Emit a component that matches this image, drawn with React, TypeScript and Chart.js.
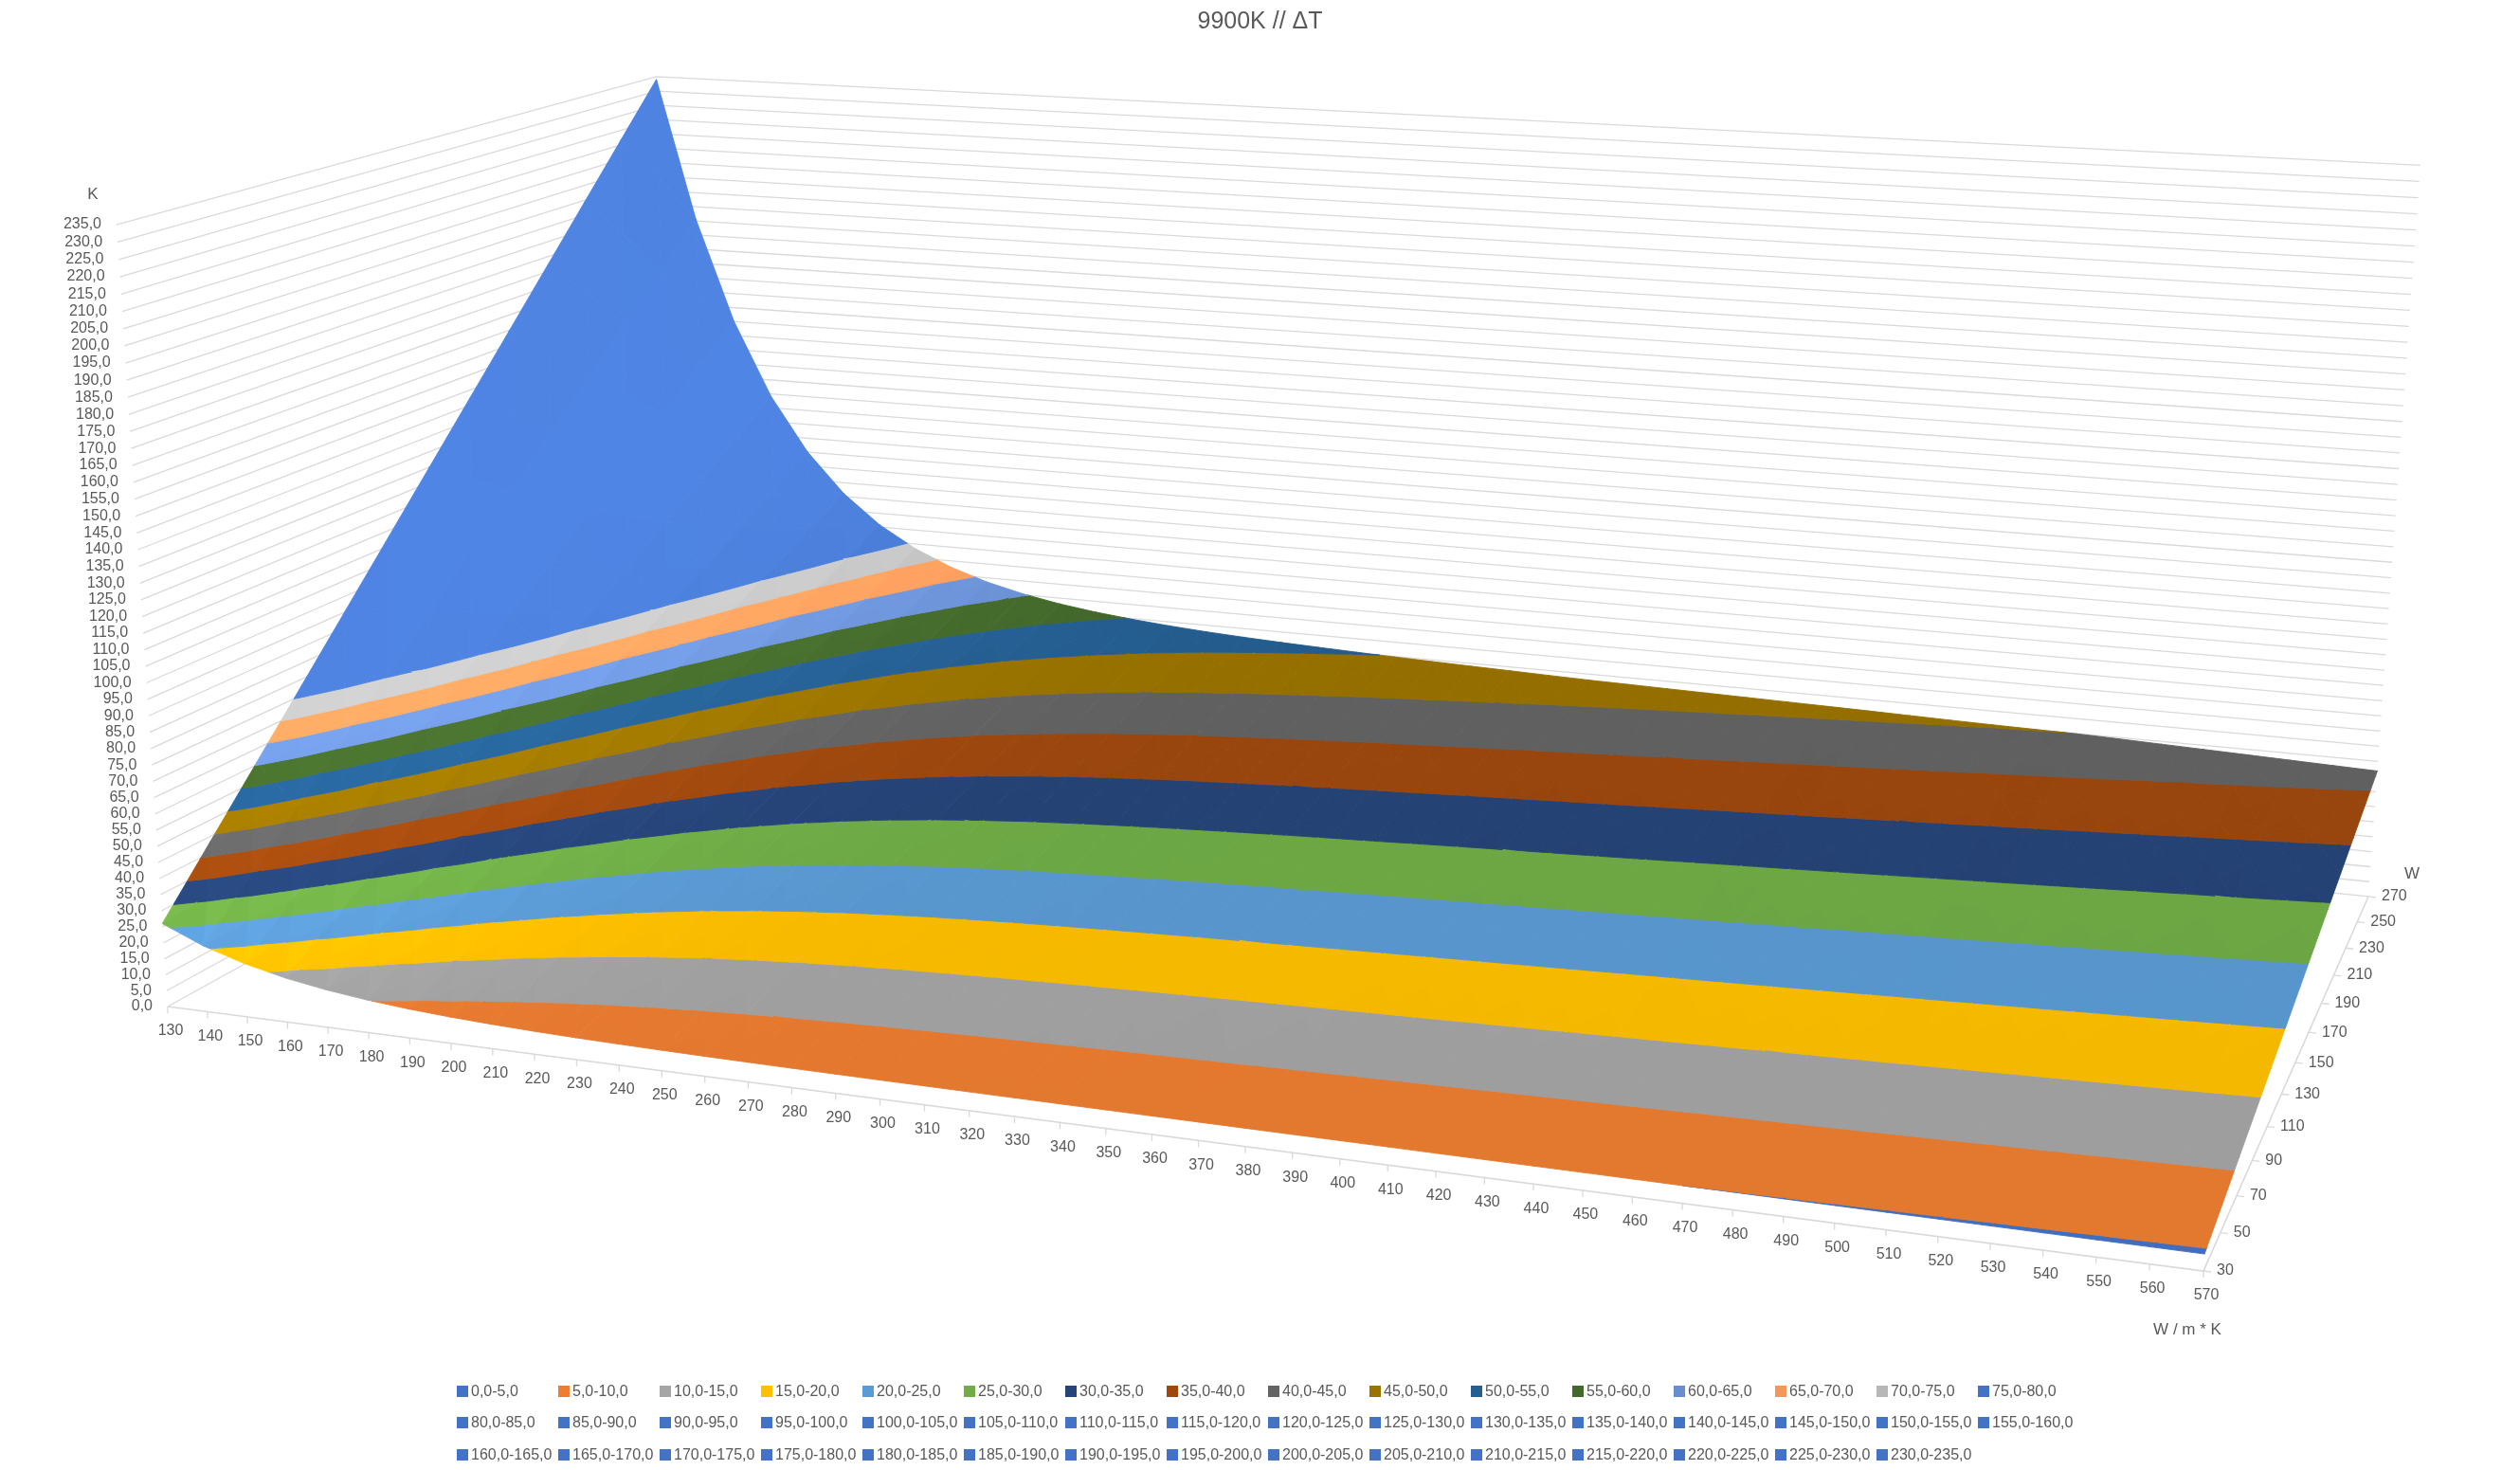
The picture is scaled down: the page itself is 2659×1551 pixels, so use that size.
import React, { useEffect, useRef } from "react";
import { Chart, registerables } from "chart.js";

Chart.register(...registerables);

// thermal conductivity categories (W / m * K), front axis
const conductivity = [
  130, 140, 150, 160, 170, 180, 190, 200, 210, 220, 230, 240, 250, 260, 270,
  280, 290, 300, 310, 320, 330, 340, 350, 360, 370, 380, 390, 400, 410, 420,
  430, 440, 450, 460, 470, 480, 490, 500, 510, 520, 530, 540, 550, 560, 570,
];

// power series (W), depth axis
const power = [30, 50, 70, 90, 110, 130, 150, 170, 190, 210, 230, 250, 270];

// ΔT (K) per power row, one value per conductivity category
const dt30 = [26.01, 20.62, 16.68, 13.79, 11.68, 10.13, 8.98, 8.14, 7.52, 7.05, 6.7, 6.44, 6.23, 6.08, 5.95, 5.85, 5.77, 5.7, 5.64, 5.59, 5.54, 5.49, 5.45, 5.41, 5.37, 5.33, 5.29, 5.26, 5.22, 5.18, 5.15, 5.11, 5.08, 5.04, 5.0, 4.97, 4.93, 4.9, 4.86, 4.83, 4.79, 4.76, 4.72, 4.69, 4.65];
const dt50 = [43.35, 34.37, 27.8, 22.99, 19.47, 16.88, 14.97, 13.57, 12.53, 11.75, 11.17, 10.73, 10.39, 10.13, 9.92, 9.75, 9.62, 9.5, 9.4, 9.31, 9.23, 9.15, 9.08, 9.02, 8.95, 8.88, 8.82, 8.76, 8.7, 8.64, 8.58, 8.52, 8.46, 8.4, 8.34, 8.28, 8.22, 8.17, 8.11, 8.05, 7.99, 7.93, 7.87, 7.81, 7.75];
const dt70 = [60.68, 48.11, 38.92, 32.19, 27.25, 23.63, 20.96, 19.0, 17.54, 16.45, 15.64, 15.02, 14.55, 14.18, 13.89, 13.65, 13.46, 13.3, 13.16, 13.03, 12.92, 12.81, 12.71, 12.62, 12.52, 12.43, 12.35, 12.26, 12.18, 12.1, 12.01, 11.92, 11.84, 11.76, 11.68, 11.59, 11.51, 11.43, 11.35, 11.26, 11.18, 11.1, 11.02, 10.93, 10.85];
const dt90 = [78.02, 61.86, 50.04, 41.38, 35.04, 30.38, 26.95, 24.43, 22.55, 21.15, 20.11, 19.31, 18.7, 18.23, 17.86, 17.55, 17.31, 17.1, 16.92, 16.76, 16.61, 16.47, 16.34, 16.23, 16.1, 15.98, 15.88, 15.77, 15.66, 15.55, 15.44, 15.33, 15.23, 15.12, 15.01, 14.9, 14.8, 14.7, 14.59, 14.48, 14.37, 14.27, 14.17, 14.06, 13.95];
const dt110 = [95.36, 75.6, 61.16, 50.58, 42.82, 37.13, 32.93, 29.85, 27.57, 25.85, 24.57, 23.6, 22.86, 22.29, 21.82, 21.45, 21.15, 20.9, 20.68, 20.48, 20.3, 20.13, 19.98, 19.83, 19.68, 19.54, 19.4, 19.27, 19.14, 19.01, 18.87, 18.73, 18.61, 18.48, 18.35, 18.22, 18.08, 17.96, 17.83, 17.7, 17.57, 17.44, 17.31, 17.18, 17.05];
const dt130 = [112.7, 89.35, 72.28, 59.77, 50.61, 43.88, 38.92, 35.28, 32.58, 30.55, 29.04, 27.89, 27.01, 26.34, 25.79, 25.35, 25.0, 24.7, 24.44, 24.21, 23.99, 23.79, 23.61, 23.44, 23.26, 23.09, 22.93, 22.78, 22.62, 22.46, 22.3, 22.14, 22.0, 21.84, 21.68, 21.53, 21.37, 21.23, 21.07, 20.92, 20.76, 20.61, 20.46, 20.31, 20.15];
const dt150 = [130.04, 103.1, 83.4, 68.97, 58.4, 50.63, 44.91, 40.71, 37.59, 35.25, 33.51, 32.18, 31.17, 30.39, 29.76, 29.25, 28.85, 28.5, 28.2, 27.93, 27.68, 27.45, 27.24, 27.05, 26.84, 26.64, 26.46, 26.28, 26.1, 25.92, 25.73, 25.55, 25.38, 25.2, 25.02, 24.84, 24.66, 24.5, 24.32, 24.14, 23.96, 23.78, 23.61, 23.43, 23.25];
const dt170 = [147.37, 116.84, 94.52, 78.17, 66.18, 57.38, 50.9, 46.14, 42.6, 39.95, 37.98, 36.47, 35.33, 34.44, 33.73, 33.15, 32.69, 32.3, 31.96, 31.65, 31.37, 31.11, 30.87, 30.65, 30.41, 30.19, 29.99, 29.78, 29.58, 29.38, 29.16, 28.95, 28.76, 28.56, 28.36, 28.15, 27.95, 27.76, 27.56, 27.35, 27.15, 26.95, 26.76, 26.55, 26.35];
const dt190 = [164.71, 130.59, 105.64, 87.36, 73.97, 64.13, 56.89, 51.57, 47.61, 44.65, 42.45, 40.76, 39.48, 38.49, 37.7, 37.05, 36.54, 36.1, 35.72, 35.38, 35.06, 34.77, 34.5, 34.26, 33.99, 33.74, 33.52, 33.29, 33.06, 32.83, 32.59, 32.36, 32.15, 31.92, 31.69, 31.46, 31.24, 31.03, 30.8, 30.57, 30.34, 30.12, 29.91, 29.68, 29.45];
const dt210 = [182.05, 144.33, 116.76, 96.56, 81.75, 70.88, 62.87, 57.0, 52.63, 49.35, 46.91, 45.05, 43.64, 42.55, 41.66, 40.95, 40.38, 39.9, 39.48, 39.1, 38.75, 38.43, 38.14, 37.86, 37.57, 37.3, 37.04, 36.79, 36.54, 36.29, 36.02, 35.76, 35.53, 35.28, 35.03, 34.78, 34.52, 34.29, 34.04, 33.79, 33.54, 33.29, 33.05, 32.8, 32.55];
const dt230 = [199.39, 158.08, 127.88, 105.75, 89.54, 77.63, 68.86, 62.42, 57.64, 54.05, 51.38, 49.34, 47.79, 46.6, 45.63, 44.85, 44.23, 43.7, 43.24, 42.83, 42.44, 42.09, 41.77, 41.47, 41.15, 40.85, 40.57, 40.3, 40.02, 39.74, 39.45, 39.17, 38.92, 38.64, 38.36, 38.09, 37.81, 37.56, 37.28, 37.01, 36.73, 36.46, 36.2, 35.93, 35.65];
const dt250 = [216.73, 171.83, 139.0, 114.95, 97.33, 84.38, 74.85, 67.85, 62.65, 58.75, 55.85, 53.63, 51.95, 50.65, 49.6, 48.75, 48.08, 47.5, 47.0, 46.55, 46.13, 45.75, 45.4, 45.08, 44.73, 44.4, 44.1, 43.8, 43.5, 43.2, 42.88, 42.58, 42.3, 42.0, 41.7, 41.4, 41.1, 40.83, 40.53, 40.23, 39.93, 39.63, 39.35, 39.05, 38.75];
const dt270 = [234.06, 185.57, 150.12, 124.15, 105.11, 91.13, 80.84, 73.28, 67.66, 63.45, 60.32, 57.92, 56.11, 54.7, 53.57, 52.65, 51.92, 51.3, 50.76, 50.27, 49.82, 49.41, 49.03, 48.68, 48.3, 47.95, 47.7, 47.45, 47.2, 46.95, 46.7, 46.45, 46.2, 45.9, 45.6, 45.35, 45.15, 44.95, 44.55, 44.1, 43.65, 43.2, 42.75, 42.3, 41.85];

const deltaT = [dt30, dt50, dt70, dt90, dt110, dt130, dt150, dt170, dt190, dt210, dt230, dt250, dt270];

// value axis ticks (K), also the contour band limits
const valueTicks = [
  0, 5, 10, 15, 20, 25, 30, 35, 40, 45, 50, 55, 60, 65, 70, 75, 80, 85, 90, 95,
  100, 105, 110, 115, 120, 125, 130, 135, 140, 145, 150, 155, 160, 165, 170,
  175, 180, 185, 190, 195, 200, 205, 210, 215, 220, 225, 230, 235,
];

const bandColors = [
  "#4472C4", "#ED7D31", "#A5A5A5", "#FFC000", "#5B9BD5", "#70AD47", "#264478",
  "#9E480E", "#636363", "#997300", "#255E91", "#43682B", "#698ED0", "#F1975A",
  "#B7B7B7",
];
const upperBandColor = "#4472C4";

const TEXT = "#595959";
const GRID = "#D9D9D9";
const FONT = '"Liberation Sans", Arial, sans-serif';

// projective camera in homogeneous image-plane units:
// image of the front-left floor corner, and of one full step along each box edge
const CAMERA = {
  origin: [-0.2305, 0.0524, 1],
  k: [0.400652, 0.04007, -0.14539],
  w: [0.0808, -0.061148, 0.21828],
  z: [0.000408, -0.159768, -0.046447],
};
const WINDOW = { x: [-0.2659, 0.2659], y: [-0.15, 0.1502] };
// box proportions in the world, used for the shading normals
const BOX = { k: 0.4238, w: 0.259, z: 0.166 };

type P3 = number[];
type Vtx = { ki: number; wi: number; z: number };

const zMax = valueTicks[valueTicks.length - 1];
const lastK = conductivity.length - 1;
const lastW = power.length - 1;

function camPoint(ki: number, wi: number, z: number): P3 {
  const a = ki / lastK;
  const b = wi / lastW;
  const c = z / zMax;
  return [0, 1, 2].map(
    (i) => CAMERA.origin[i] + a * CAMERA.k[i] + b * CAMERA.w[i] + c * CAMERA.z[i]
  );
}

const worldPoint = (v: Vtx): P3 => [(v.ki / lastK) * BOX.k, (v.wi / lastW) * BOX.w, (v.z / zMax) * BOX.z];

const fmt = (v: number) => v.toFixed(1).replace(".", ",");

const bands = valueTicks.slice(0, -1).map((lo, i) => ({
  lo,
  hi: valueTicks[i + 1],
  color: bandColors[i] ?? upperBandColor,
  label: `${fmt(lo)}-${fmt(valueTicks[i + 1])}`,
}));

// neighbouring bands of one colour are painted as one piece
const paintBands: { lo: number; hi: number; color: string }[] = [];
bands.forEach((b) => {
  const prev = paintBands[paintBands.length - 1];
  if (prev && prev.color === b.color) prev.hi = b.hi;
  else paintBands.push({ lo: b.lo, hi: b.hi, color: b.color });
});

const sub = (a: P3, b: P3) => [a[0] - b[0], a[1] - b[1], a[2] - b[2]];
const dot = (a: P3, b: P3) => a[0] * b[0] + a[1] * b[1] + a[2] * b[2];
const cross = (a: P3, b: P3) => [
  a[1] * b[2] - a[2] * b[1],
  a[2] * b[0] - a[0] * b[2],
  a[0] * b[1] - a[1] * b[0],
];
const unit = (a: P3) => {
  const n = Math.hypot(a[0], a[1], a[2]);
  return [a[0] / n, a[1] / n, a[2] / n];
};

const light = unit([0.85, -0.2, 0.49]);

function shade(hex: string, f: number) {
  const n = parseInt(hex.slice(1), 16);
  const ch = (v: number) => Math.max(0, Math.min(255, Math.round(v * f)));
  return `rgb(${ch((n >> 16) & 255)},${ch((n >> 8) & 255)},${ch(n & 255)})`;
}

function clip(poly: Vtx[], keep: (v: Vtx) => number) {
  const out: Vtx[] = [];
  for (let i = 0; i < poly.length; i++) {
    const a = poly[i];
    const b = poly[(i + 1) % poly.length];
    const fa = keep(a);
    const fb = keep(b);
    if (fa >= 0) out.push(a);
    if ((fa >= 0) !== (fb >= 0)) {
      const t = fa / (fa - fb);
      out.push({
        ki: a.ki + (b.ki - a.ki) * t,
        wi: a.wi + (b.wi - a.wi) * t,
        z: a.z + (b.z - a.z) * t,
      });
    }
  }
  return out;
}

const surfacePlugin = {
  id: "surface3d",
  beforeDatasetsDraw(chart: any) {
    const { ctx } = chart;
    const sx = chart.scales.x;
    const sy = chart.scales.y;
    const toPx = (p: P3) => [sx.getPixelForValue(p[0] / p[2]), sy.getPixelForValue(p[1] / p[2])];
    const at = (ki: number, wi: number, z: number) => toPx(camPoint(ki, wi, z));

    ctx.save();

    // side and back walls
    ctx.strokeStyle = GRID;
    ctx.lineWidth = 1.3;
    valueTicks.forEach((t) => {
      const a = at(0, 0, t);
      const b = at(0, lastW, t);
      const c = at(lastK, lastW, t);
      ctx.beginPath();
      ctx.moveTo(a[0], a[1]);
      ctx.lineTo(b[0], b[1]);
      ctx.lineTo(c[0], c[1]);
      ctx.stroke();
    });

    // floor axes
    ctx.lineWidth = 1.6;
    const f0 = at(0, 0, 0);
    const f1 = at(lastK, 0, 0);
    const f2 = at(lastK, lastW, 0);
    ctx.beginPath();
    ctx.moveTo(f0[0], f0[1]);
    ctx.lineTo(f1[0], f1[1]);
    ctx.lineTo(f2[0], f2[1]);
    ctx.stroke();
    ctx.lineWidth = 1.3;
    conductivity.forEach((_, ki) => {
      const p = at(ki, 0, 0);
      ctx.beginPath();
      ctx.moveTo(p[0], p[1]);
      ctx.lineTo(p[0], p[1] + 7);
      ctx.stroke();
    });
    power.forEach((_, wi) => {
      const p = at(lastK, wi, 0);
      ctx.beginPath();
      ctx.moveTo(p[0], p[1]);
      ctx.lineTo(p[0] + 8, p[1] + 1);
      ctx.stroke();
    });

    // surface: each cell split in four triangles round its centre
    const tris: { pts: Vtx[]; depth: number; f: number }[] = [];
    for (let wi = 0; wi < lastW; wi++) {
      for (let ki = 0; ki < lastK; ki++) {
        const a = { ki, wi, z: deltaT[wi][ki] };
        const b = { ki: ki + 1, wi, z: deltaT[wi][ki + 1] };
        const c = { ki: ki + 1, wi: wi + 1, z: deltaT[wi + 1][ki + 1] };
        const d = { ki, wi: wi + 1, z: deltaT[wi + 1][ki] };
        const m = { ki: ki + 0.5, wi: wi + 0.5, z: (a.z + b.z + c.z + d.z) / 4 };
        [[a, b, m], [b, c, m], [c, d, m], [d, a, m]].forEach((pts) => {
          const wp = pts.map(worldPoint);
          let n = unit(cross(sub(wp[1], wp[0]), sub(wp[2], wp[0])));
          if (n[2] < 0) n = n.map((x) => -x);
          const f = Math.max(0.82, Math.min(1.2, 0.95 + 0.42 * (dot(n, light) - 0.49)));
          const depth = pts.reduce((s, v) => s + camPoint(v.ki, v.wi, v.z)[2], 0) / 3;
          tris.push({ pts, depth, f });
        });
      }
    }
    tris.sort((p, q) => q.depth - p.depth);

    ctx.lineJoin = "round";
    ctx.lineWidth = 0.9;
    tris.forEach(({ pts, f }) => {
      const lo = Math.min(...pts.map((v) => v.z));
      const hi = Math.max(...pts.map((v) => v.z));
      paintBands.forEach((band, bi) => {
        const top = bi === paintBands.length - 1 ? Infinity : band.hi;
        const bottom = bi === 0 ? -Infinity : band.lo;
        if (hi < bottom || lo > top) return;
        let poly = clip(pts, (v) => v.z - bottom);
        poly = clip(poly, (v) => top - v.z);
        if (poly.length < 3) return;
        const col = shade(band.color, f);
        ctx.fillStyle = col;
        ctx.strokeStyle = col;
        ctx.beginPath();
        poly.forEach((v, i) => {
          const p = at(v.ki, v.wi, v.z);
          if (i === 0) ctx.moveTo(p[0], p[1]);
          else ctx.lineTo(p[0], p[1]);
        });
        ctx.closePath();
        ctx.fill();
        ctx.stroke();
      });
    });

    // tick labels
    ctx.fillStyle = TEXT;
    ctx.font = `16px ${FONT}`;
    ctx.textBaseline = "middle";
    ctx.textAlign = "right";
    valueTicks.forEach((t) => {
      const p = at(0, 0, t);
      ctx.fillText(fmt(t), p[0] - 16, p[1]);
    });
    ctx.textAlign = "center";
    conductivity.forEach((k, ki) => {
      const p = at(ki, 0, 0);
      ctx.fillText(String(k), p[0] + 3, p[1] + 26);
    });
    ctx.textAlign = "left";
    power.forEach((w, wi) => {
      const p = at(lastK, wi, 0);
      ctx.fillText(String(w), p[0] + 14, p[1]);
    });

    // axis titles
    ctx.font = `17px ${FONT}`;
    ctx.textAlign = "center";
    const zTop = at(0, 0, zMax);
    ctx.fillText("K", zTop[0] - 25, zTop[1] - 32);
    ctx.fillText("W", f2[0] + 46, f2[1] - 24);
    ctx.fillText("W / m * K", f1[0] - 17, f1[1] + 62);

    ctx.restore();
  },
};

function SurfaceChart() {
  const canvasRef = useRef<HTMLCanvasElement>(null);

  useEffect(() => {
    if (!canvasRef.current) return;
    const points: { x: number; y: number }[] = [];
    deltaT.forEach((row, wi) =>
      row.forEach((z, ki) => {
        const p = camPoint(ki, wi, z);
        points.push({ x: p[0] / p[2], y: p[1] / p[2] });
      })
    );
    const chart = new Chart(canvasRef.current, {
      type: "scatter",
      data: {
        datasets: [
          { label: "ΔT", data: points, pointRadius: 0, pointHoverRadius: 0, showLine: false },
        ],
      },
      options: {
        animation: false,
        responsive: true,
        maintainAspectRatio: false,
        events: [],
        layout: { padding: 0 },
        scales: {
          x: { type: "linear", display: false, min: WINDOW.x[0], max: WINDOW.x[1] },
          y: { type: "linear", display: false, min: WINDOW.y[0], max: WINDOW.y[1], reverse: true },
        },
        plugins: {
          legend: { display: false },
          tooltip: { enabled: false },
          title: {
            display: true,
            text: "9900K // ΔT",
            color: TEXT,
            font: { family: FONT, size: 25, weight: "normal" },
            padding: { top: 8, bottom: 12 },
          },
        },
      },
      plugins: [surfacePlugin],
    });
    return () => {
      chart.destroy();
    };
  }, []);

  return <canvas ref={canvasRef} />;
}

function Legend() {
  return (
    <div
      style={{
        position: "absolute",
        left: 482,
        top: 1451,
        display: "grid",
        gridTemplateColumns: "repeat(16, 107px)",
        gridAutoRows: "33.5px",
        font: `16px ${FONT}`,
        color: TEXT,
      }}
    >
      {bands.map((b) => (
        <div key={b.label} style={{ display: "flex", alignItems: "center", whiteSpace: "nowrap" }}>
          <span style={{ width: 12, height: 12, background: b.color, marginRight: 3, flex: "none" }} />
          {b.label}
        </div>
      ))}
    </div>
  );
}

export default function App() {
  return (
    <div
      style={{
        position: "absolute",
        left: 0,
        top: 0,
        width: 2659,
        height: 1551,
        background: "#fff",
        overflow: "hidden",
      }}
    >
      <div style={{ position: "absolute", left: 0, top: 0, width: 2659, height: 1551 }}>
        <SurfaceChart />
      </div>
      <Legend />
    </div>
  );
}
